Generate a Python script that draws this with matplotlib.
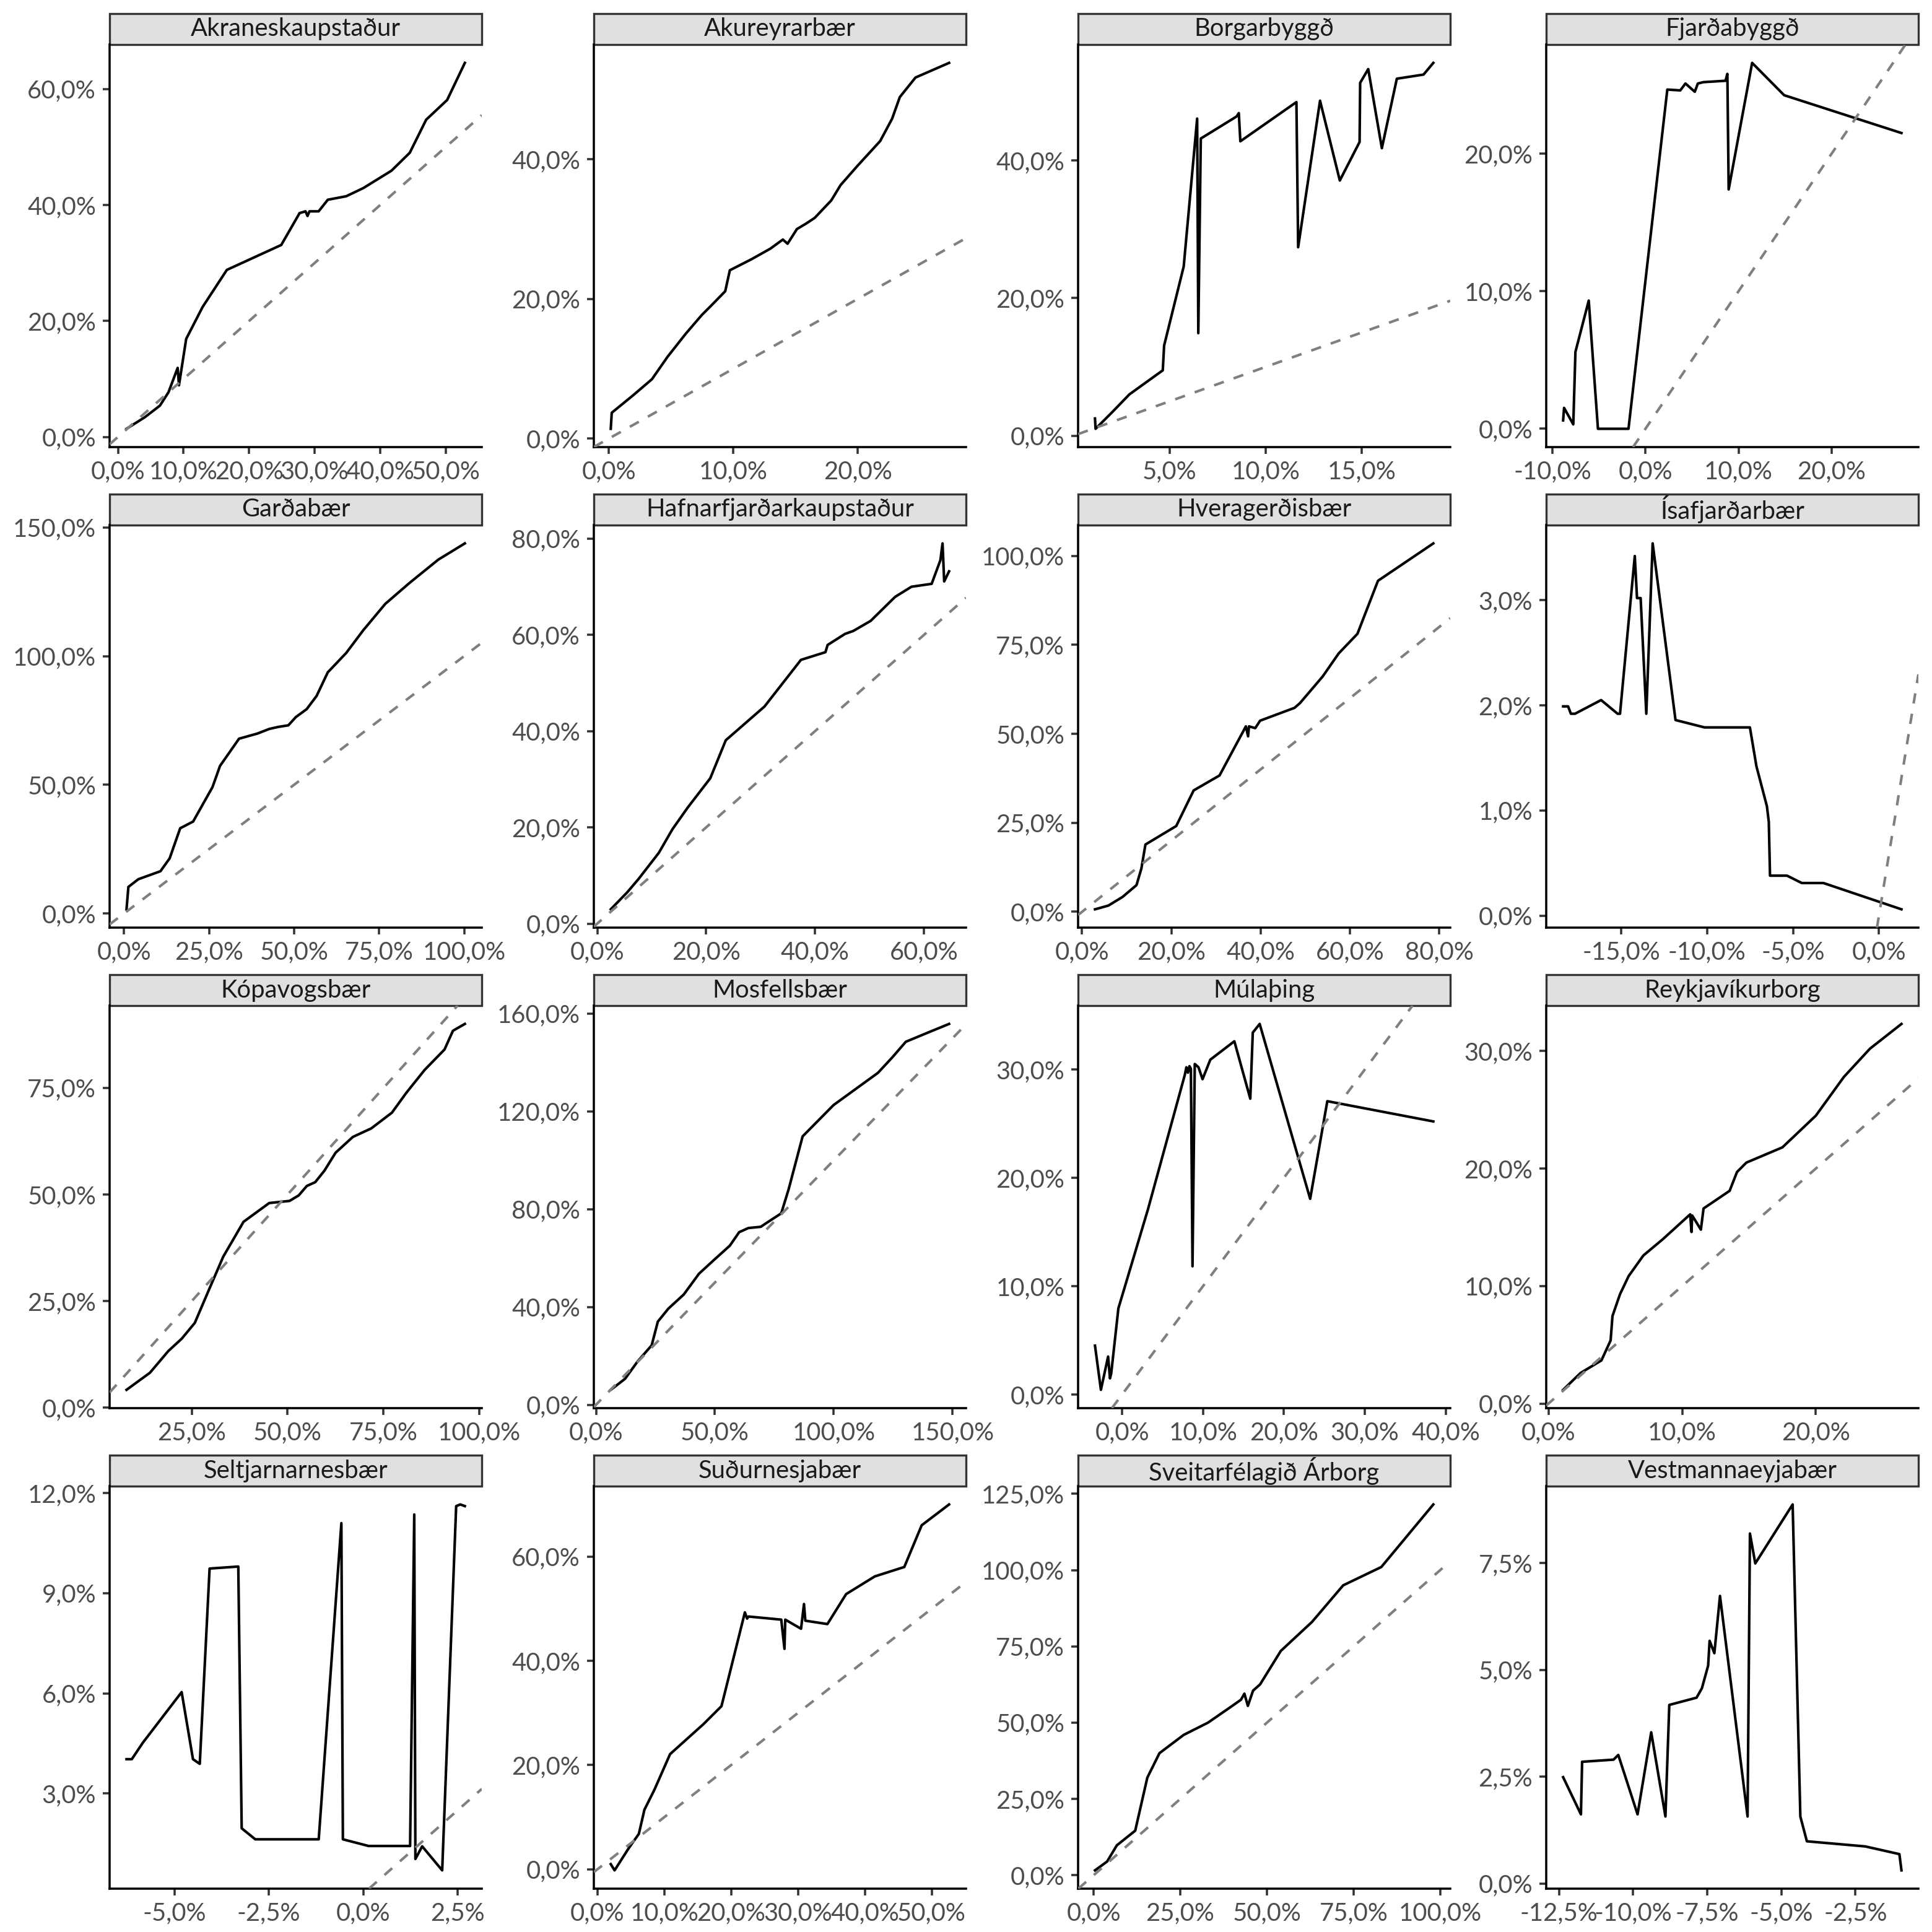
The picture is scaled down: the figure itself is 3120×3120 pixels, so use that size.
import matplotlib
matplotlib.use('Agg')
import matplotlib.pyplot as plt
from matplotlib.patches import Rectangle
from matplotlib.ticker import FixedLocator, FuncFormatter

plt.rcParams['font.family'] = ['Lato', 'DejaVu Sans']

# values in percent
akranes_x = [1.3, 4.1, 6.4, 7.7, 9.1, 9.3, 10.4, 12.9, 16.6, 24.9, 27.7, 28.6, 28.9, 29.2, 30.6,
             32.0, 34.8, 37.4, 41.7, 44.5, 47.0, 50.2, 52.9]
akranes_y = [1.4, 3.4, 5.4, 7.7, 11.9, 8.9, 16.9, 22.4, 28.8, 33.1, 38.6, 38.9, 38.1, 38.9, 38.9,
             40.9, 41.5, 42.9, 45.9, 49.0, 54.7, 58.1, 64.5]

akureyri_x = [0.15, 0.23, 1.95, 3.46, 4.71, 6.17, 7.47, 8.2, 9.35, 9.72, 11.48, 12.98, 13.98, 14.36,
              15.11, 15.86, 16.54, 17.87, 18.62, 20.0, 21.8, 22.76, 23.38, 24.64, 27.34]
akureyri_y = [1.4, 3.7, 6.2, 8.5, 11.7, 15.0, 17.7, 19.0, 21.1, 24.1, 25.7, 27.2, 28.5, 27.9,
              30.0, 30.8, 31.6, 34.1, 36.3, 39.1, 42.6, 45.8, 48.9, 51.7, 53.8]

borgar_x = [1.11, 1.14, 2.0, 2.9, 4.64, 4.71, 5.73, 6.43, 6.49, 6.62, 8.48, 8.6, 8.68, 11.6, 11.69,
            12.83, 13.86, 14.89, 14.92, 15.34, 16.05, 16.83, 18.22, 18.73]
borgar_y = [2.5, 1.0, 3.4, 6.0, 9.5, 13.1, 24.6, 46.1, 14.9, 43.2, 46.4, 46.9, 42.8, 48.5, 27.4,
            48.7, 37.1, 42.7, 51.3, 53.3, 41.8, 51.9, 52.5, 54.2]

fjarda_x = [-8.84, -8.74, -7.75, -7.52, -6.09, -5.1, -1.82, 2.35, 3.74, 4.3, 5.3, 5.63, 6.23, 8.6,
            8.8, 8.94, 11.46, 14.9, 27.5]
fjarda_y = [0.61, 1.52, 0.32, 5.59, 9.32, 0.0, 0.0, 24.66, 24.6, 25.1, 24.5, 25.1, 25.2, 25.3,
            25.8, 17.4, 26.6, 24.25, 21.5]

gardab_x = [0.72, 1.27, 4.2, 10.7, 13.4, 16.5, 20.3, 26.0, 28.2, 33.8, 39.2, 42.7, 45.4, 48.3,
            50.5, 53.7, 56.6, 59.9, 65.3, 70.3, 76.8, 83.9, 92.4, 100.2]
gardab_y = [1.6, 10.3, 13.3, 16.4, 21.4, 33.1, 35.7, 49.1, 57.3, 67.9, 69.9, 71.7, 72.5, 73.1,
            76.3, 79.4, 84.5, 93.7, 101.2, 110.0, 120.3, 128.4, 137.5, 143.8]

hafnar_x = [2.48, 5.5, 7.56, 11.3, 13.8, 16.6, 20.75, 23.6, 30.7, 37.4, 41.9, 42.3, 45.5, 47.0,
            50.2, 54.7, 57.7, 61.4, 63.0, 63.4, 63.7, 64.6]
hafnar_y = [2.97, 6.5, 9.24, 14.7, 19.6, 24.1, 30.2, 38.1, 45.1, 54.8, 56.4, 57.9, 60.2, 60.8,
            62.9, 67.9, 70.0, 70.6, 75.5, 79.0, 71.1, 73.2]

hvera_x = [2.9, 5.9, 9.1, 12.2, 13.3, 14.2, 21.1, 25.0, 30.8, 36.7, 37.2, 37.4, 38.8, 39.9, 47.6,
           48.8, 53.9, 57.5, 61.7, 66.3, 78.7]
hvera_y = [0.7, 1.75, 4.2, 7.5, 12.2, 18.9, 24.1, 34.1, 38.3, 52.1, 49.3, 52.1, 51.6, 53.7, 57.3,
           58.6, 66.1, 72.6, 78.1, 93.0, 103.5]

isa_x = [-18.38, -18.09, -17.93, -17.69, -16.17, -15.21, -15.07, -14.21, -14.08, -13.87, -13.54,
         -13.17, -11.84, -10.15, -7.51, -7.13, -6.52, -6.41, -6.34, -5.35, -4.49, -3.23, 1.31]
isa_y = [1.99, 1.99, 1.92, 1.92, 2.05, 1.92, 1.92, 3.42, 3.02, 3.02, 1.92,
         3.54, 1.86, 1.79, 1.79, 1.42, 1.04, 0.89, 0.38, 0.38, 0.31, 0.31, 0.06]

kopa_x = [8.0, 14.1, 18.9, 22.4, 25.8, 29.6, 33.2, 38.5, 45.2, 50.5, 52.9, 55.0, 57.2, 59.6, 62.5,
          67.0, 71.8, 77.2, 80.9, 85.7, 90.9, 93.1, 96.2]
kopa_y = [4.2, 8.2, 13.3, 16.2, 19.9, 27.9, 35.4, 43.6, 48.0, 48.5, 49.8, 52.0, 52.9, 55.6, 59.8,
          63.5, 65.5, 69.2, 73.8, 79.2, 84.0, 88.4, 90.0]

mosf_x = [6.2, 12.2, 17.4, 23.4, 26.0, 30.4, 36.9, 43.3, 49.8, 56.3, 60.2, 64.1, 69.3, 71.9, 77.9,
          81.0, 86.9, 99.9, 118.6, 124.6, 130.3, 140.7, 148.5]
mosf_y = [6.1, 10.6, 17.6, 24.3, 34.0, 39.3, 45.1, 53.6, 59.4, 65.1, 70.6, 72.3, 72.8, 74.5, 78.3,
          88.1, 109.8, 122.6, 135.8, 142.1, 148.5, 152.7, 155.8]

mula_x = [-3.35, -2.62, -1.73, -1.5, -1.35, -0.46, 3.2, 7.75, 7.94, 8.13, 8.32, 8.5, 8.7, 8.98,
          9.44, 9.94, 10.9, 13.87, 15.84, 16.15, 17.0, 23.24, 25.36, 38.46]
mula_y = [4.51, 0.43, 3.5, 1.49, 1.92, 7.95, 17.1, 29.5, 30.2, 29.7, 30.3, 30.06, 11.83, 30.5,
          30.2, 29.1, 30.9, 32.6, 27.3, 33.4, 34.2, 18.06, 27.07, 25.2]

reyk_x = [1.1, 2.4, 3.96, 4.65, 4.79, 5.35, 6.0, 7.1, 8.57, 10.6, 10.7, 10.75, 11.4, 11.6, 13.55,
          14.1, 14.8, 17.5, 20.0, 22.1, 24.05, 26.4]
reyk_y = [1.17, 2.6, 3.67, 5.37, 7.45, 9.3, 10.85, 12.6, 14.0, 16.1, 14.6, 16.0, 14.8, 16.6, 18.1,
          19.7, 20.5, 21.8, 24.5, 27.8, 30.2, 32.3]

selt_x = [-6.27, -6.13, -5.84, -4.81, -4.51, -4.33, -4.07, -3.31, -3.22, -2.86, -1.18, -0.58,
          -0.54, 0.14, 1.24, 1.35, 1.38, 1.56, 2.09, 2.46, 2.57, 2.69]
selt_y = [4.03, 4.03, 4.52, 6.04, 4.03, 3.89, 9.74, 9.8, 1.96, 1.63, 1.63, 11.1,
          1.63, 1.43, 1.43, 11.36, 1.04, 1.42, 0.70, 11.61, 11.66, 11.61]

sudur_x = [2.0, 2.57, 4.66, 6.2, 7.04, 8.54, 10.87, 15.86, 18.56, 22.06, 22.39, 22.6, 27.5, 27.98,
           28.1, 30.46, 30.9, 31.1, 34.4, 37.2, 41.5, 45.9, 48.5, 52.6]
sudur_y = [1.0, -0.2, 4.0, 6.8, 11.45, 15.3, 22.1, 27.85, 31.3, 49.3, 48.1, 48.5, 47.9, 42.3,
           47.9, 46.15, 50.9, 47.7, 47.05, 52.8, 56.2, 58.0, 66.0, 70.0]

arborg_x = [0.4, 3.9, 6.7, 12.0, 15.5, 19.0, 26.0, 33.0, 40.0, 42.5, 43.5, 44.5, 46.0, 48.0, 54.0,
            63.0, 72.0, 83.0, 98.0]
arborg_y = [1.6, 4.5, 9.8, 14.6, 32.0, 40.0, 46.0, 50.0, 55.5, 57.5, 59.5, 55.5, 60.5, 62.5, 73.5,
            83.0, 95.0, 101.0, 121.5]

vest_x = [-12.36, -11.76, -11.72, -10.66, -10.5, -9.85, -9.39, -8.91, -8.78, -7.86, -7.68, -7.47,
          -7.42, -7.26, -7.07, -6.14, -6.06, -5.88, -4.62, -4.36, -4.14, -2.17, -1.02, -0.95]
vest_y = [2.49, 1.62, 2.85, 2.9, 3.01, 1.62, 3.54, 1.57, 4.18, 4.35, 4.57, 5.1,
          5.68, 5.39, 6.73, 1.57, 8.19, 7.49, 8.87, 1.57, 0.99, 0.87, 0.69, 0.31]

names = ['Akraneskaupstaður', 'Akureyrarbær', 'Borgarbyggð', 'Fjarðabyggð',
         'Garðabær', 'Hafnarfjarðarkaupstaður', 'Hveragerðisbær', 'Ísafjarðarbær',
         'Kópavogsbær', 'Mosfellsbær', 'Múlaþing', 'Reykjavíkurborg',
         'Seltjarnarnesbær', 'Suðurnesjabær', 'Sveitarfélagið Árborg', 'Vestmannaeyjabær']
series = [(akranes_x, akranes_y), (akureyri_x, akureyri_y), (borgar_x, borgar_y), (fjarda_x, fjarda_y),
          (gardab_x, gardab_y), (hafnar_x, hafnar_y), (hvera_x, hvera_y), (isa_x, isa_y),
          (kopa_x, kopa_y), (mosf_x, mosf_y), (mula_x, mula_y), (reyk_x, reyk_y),
          (selt_x, selt_y), (sudur_x, sudur_y), (arborg_x, arborg_y), (vest_x, vest_y)]

x_ticks = [[0, 10, 20, 30, 40, 50], [0, 10, 20], [5, 10, 15], [-10, 0, 10, 20],
           [0, 25, 50, 75, 100], [0, 20, 40, 60], [0, 20, 40, 60, 80], [-15, -10, -5, 0],
           [25, 50, 75, 100], [0, 50, 100, 150], [0, 10, 20, 30, 40], [0, 10, 20],
           [-5, -2.5, 0, 2.5], [0, 10, 20, 30, 40, 50], [0, 25, 50, 75, 100],
           [-12.5, -10, -7.5, -5, -2.5]]
y_ticks = [[0, 20, 40, 60], [0, 20, 40], [0, 20, 40], [0, 10, 20],
           [0, 50, 100, 150], [0, 20, 40, 60, 80], [0, 25, 50, 75, 100], [0, 1, 2, 3],
           [0, 25, 50, 75], [0, 40, 80, 120, 160], [0, 10, 20, 30], [0, 10, 20, 30],
           [3, 6, 9, 12], [0, 20, 40, 60], [0, 25, 50, 75, 100, 125], [0, 2.5, 5, 7.5]]

# panel geometry in pixels of the 3120 px figure
W = H = 3120
col_left = [177, 959, 1741, 2497]
row_top = [72, 848, 1624, 2400]
pw, ph, strip_h = 601, 650, 50

pct = FuncFormatter(lambda v, p: f'{v:.1f}%'.replace('.', ','))

fig = plt.figure(figsize=(10.4, 10.4), dpi=300)
for i, name in enumerate(names):
    r, c = divmod(i, 4)
    ax = fig.add_axes([col_left[c] / W, (H - row_top[r] - ph) / H, pw / W, ph / H])
    xs, ys = series[i]
    ax.plot(xs, ys, color='black', lw=1.0, zorder=2)
    ax.margins(0.05)
    xl, yl = ax.get_xlim(), ax.get_ylim()
    # axline adds (0,0) to the data limits, so keep the limits from the data only
    ax.axline((0, 0), slope=1, color='#7F7F7F', lw=1.0, linestyle=(0, (4, 4)), zorder=3)
    ax.set_xlim(xl)
    ax.set_ylim(yl)

    ax.xaxis.set_major_locator(FixedLocator(x_ticks[i]))
    ax.yaxis.set_major_locator(FixedLocator(y_ticks[i]))
    ax.xaxis.set_major_formatter(pct)
    ax.yaxis.set_major_formatter(pct)
    ax.tick_params(length=2.75, width=0.85, color='#333333', labelsize=9.6,
                   labelcolor='#4D4D4D', pad=2.5)
    for s in ['top', 'right']:
        ax.spines[s].set_visible(False)
    for s in ['left', 'bottom']:
        ax.spines[s].set_linewidth(0.85)
        ax.spines[s].set_color('black')

    sh = strip_h / ph
    ax.add_patch(Rectangle((0, 1), 1, sh, transform=ax.transAxes, clip_on=False,
                           facecolor='#E0E0E0', edgecolor='#333333', lw=0.8))
    ax.text(0.5, 1 + sh / 2, name, transform=ax.transAxes, ha='center', va='center',
            fontsize=9.6, color='#1A1A1A')

fig.savefig('out.png', dpi=300, facecolor='white')
